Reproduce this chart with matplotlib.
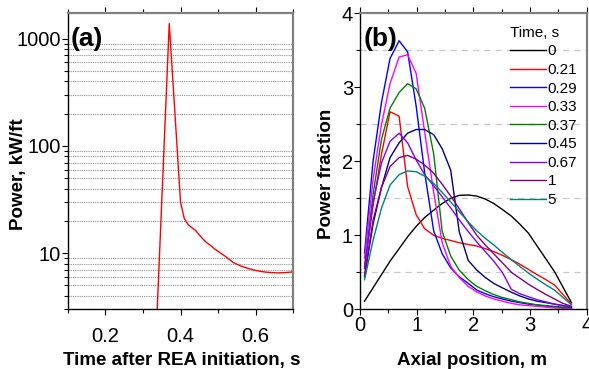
import matplotlib
matplotlib.use('Agg')
import matplotlib.pyplot as plt
from matplotlib.ticker import MultipleLocator, LogLocator, NullFormatter, FixedLocator

plt.rcParams['font.family'] = ['Liberation Sans', 'DejaVu Sans']

# (a) power history
time_s = [0.33, 0.34, 0.35, 0.36, 0.37, 0.38, 0.39, 0.40, 0.41, 0.42, 0.43, 0.44, 0.45,
          0.46, 0.47, 0.48, 0.49, 0.50, 0.52, 0.54, 0.56, 0.58, 0.60, 0.62, 0.64, 0.66,
          0.68, 0.70]
power_kw_ft = [0.65, 4.4, 30, 203, 1380, 386, 108, 30, 21, 18.5, 17.3, 16.3, 14.8,
               13.5, 12.5, 11.8, 11.0, 10.4, 9.3, 8.2, 7.6, 7.2, 6.9, 6.7, 6.6, 6.55,
               6.6, 6.7]

# (b) axial power shapes
axial_m = [0.08, 0.23, 0.38, 0.53, 0.69, 0.84, 0.99, 1.14, 1.30, 1.45, 1.60, 1.75, 1.91,
           2.06, 2.21, 2.36, 2.51, 2.67, 2.82, 2.97, 3.12, 3.28, 3.43, 3.58, 3.73]
t_labels = ['0', '0.21', '0.29', '0.33', '0.37', '0.45', '0.67', '1', '5']
colors = ['#000000', '#ff0000', '#0000ff', '#ff00ff', '#008000', '#000080', '#8000ff',
          '#800080', '#008080']
shape_0 = [0.11, 0.29, 0.47, 0.65, 0.82, 0.98, 1.12, 1.24, 1.34, 1.43, 1.50, 1.54, 1.545,
           1.53, 1.49, 1.43, 1.35, 1.26, 1.15, 1.03, 0.86, 0.68, 0.51, 0.30, 0.09]
shape_021 = [0.58, 1.40, 2.10, 2.67, 2.61, 1.66, 1.28, 1.09, 1.00, 0.96, 0.93, 0.90, 0.875,
             0.855, 0.82, 0.78, 0.73, 0.67, 0.61, 0.54, 0.47, 0.40, 0.33, 0.20, 0.07]
shape_029 = [0.76, 2.00, 2.80, 3.39, 3.63, 3.48, 2.75, 1.85, 1.06, 0.75, 0.56, 0.44, 0.35,
             0.26, 0.21, 0.17, 0.14, 0.11, 0.09, 0.07, 0.06, 0.04, 0.03, 0.02, 0.01]
shape_033 = [0.69, 1.75, 2.50, 3.05, 3.41, 3.44, 3.19, 2.40, 1.58, 0.90, 0.58, 0.43, 0.31,
             0.235, 0.18, 0.14, 0.11, 0.08, 0.06, 0.05, 0.04, 0.03, 0.02, 0.015, 0.01]
shape_037 = [0.56, 1.55, 2.30, 2.72, 2.93, 3.05, 2.98, 2.72, 2.10, 1.05, 0.72, 0.53, 0.40,
             0.31, 0.25, 0.20, 0.16, 0.13, 0.10, 0.08, 0.06, 0.05, 0.04, 0.03, 0.02]
shape_045 = [0.44, 1.15, 1.65, 2.05, 2.25, 2.38, 2.43, 2.43, 2.36, 2.17, 1.88, 1.05, 0.66,
             0.53, 0.43, 0.35, 0.29, 0.23, 0.18, 0.14, 0.11, 0.09, 0.07, 0.05, 0.03]
shape_067 = [0.55, 1.45, 1.98, 2.27, 2.38, 2.25, 2.02, 1.82, 1.67, 1.52, 1.37, 1.21, 1.05,
             0.91, 0.78, 0.65, 0.50, 0.27, 0.21, 0.17, 0.13, 0.10, 0.07, 0.05, 0.03]
shape_1 = [0.46, 1.20, 1.65, 1.93, 2.05, 2.08, 2.03, 1.95, 1.84, 1.69, 1.53, 1.36, 1.17,
           1.00, 0.87, 0.75, 0.63, 0.50, 0.42, 0.34, 0.27, 0.20, 0.14, 0.08, 0.04]
shape_5 = [0.40, 0.93, 1.37, 1.68, 1.82, 1.87, 1.86, 1.80, 1.70, 1.58, 1.45, 1.32, 1.18,
           1.06, 0.96, 0.87, 0.77, 0.67, 0.58, 0.49, 0.41, 0.33, 0.26, 0.16, 0.06]
shapes = [shape_0, shape_021, shape_029, shape_033, shape_037, shape_045, shape_067,
          shape_1, shape_5]

fig = plt.figure(figsize=(5.89, 3.69), dpi=100)
ax1 = fig.add_axes([0.115, 0.1618, 0.383, 0.802])
ax2 = fig.add_axes([0.6112, 0.1618, 0.385, 0.802])


def style_frame(ax):
    ax.spines['left'].set_color('black')
    ax.spines['bottom'].set_color('black')
    ax.spines['left'].set_linewidth(1.0)
    ax.spines['bottom'].set_linewidth(1.0)
    ax.spines['top'].set_color('#808080')
    ax.spines['right'].set_color('#808080')
    ax.spines['top'].set_linewidth(1.6)
    ax.spines['right'].set_linewidth(1.6)
    ax.tick_params(which='both', direction='out', top=True, right=False, labeltop=False,
                   labelsize=14.5, width=0.8)
    ax.tick_params(which='major', length=4)
    ax.tick_params(which='minor', length=3)


# ---- panel (a)
ax1.plot(time_s, power_kw_ft, color='red', lw=1.0)
ax1.set_yscale('log')
ax1.set_xlim(0.1, 0.7)
ax1.set_ylim(3, 1720)
ax1.xaxis.set_major_locator(FixedLocator([0.2, 0.4, 0.6]))
ax1.xaxis.set_minor_locator(MultipleLocator(0.1))
ax1.yaxis.set_major_locator(FixedLocator([10, 100, 1000]))
ax1.yaxis.set_minor_locator(LogLocator(base=10, subs=range(2, 10)))
ax1.yaxis.set_minor_formatter(NullFormatter())
ax1.set_yticklabels(['10', '100', '1000'])
ax1.grid(which='minor', axis='y', color='#909090', ls=(0, (1, 1)), lw=0.8)
style_frame(ax1)
ax1.tick_params(axis='x', pad=9)
ax1.tick_params(axis='y', pad=1)
ax1.set_xlabel('Time after REA initiation, s', fontsize=13.5, fontweight='bold')
ax1.set_ylabel('Power, kW/ft', fontsize=13.5, fontweight='bold')
ax1.xaxis.set_label_coords(0.504, -0.172)
ax1.xaxis.label.set_verticalalignment('center')
ax1.yaxis.set_label_coords(-0.219, 0.457)
ax1.yaxis.label.set_verticalalignment('center')
ax1.text(0.015, 0.912, '(a)', transform=ax1.transAxes, fontsize=19, fontweight='bold',
         va='center', ha='left')

# ---- panel (b)
for shp, c, lab in zip(shapes, colors, t_labels):
    ax2.plot(axial_m, shp, color=c, lw=1.0, label=lab)
ax2.set_xlim(0, 4)
ax2.set_ylim(0, 4)
ax2.xaxis.set_major_locator(MultipleLocator(1))
ax2.xaxis.set_minor_locator(MultipleLocator(0.5))
ax2.yaxis.set_major_locator(MultipleLocator(1))
ax2.yaxis.set_minor_locator(MultipleLocator(0.5))
ax2.grid(which='minor', axis='y', color='#c8c8c8', ls=(0, (5, 4)), lw=0.9)
style_frame(ax2)
ax2.tick_params(axis='x', pad=1)
ax2.tick_params(axis='y', pad=1)
ax2.set_xlabel('Axial position, m', fontsize=13.5, fontweight='bold')
ax2.set_ylabel('Power fraction', fontsize=13.5, fontweight='bold')
ax2.xaxis.set_label_coords(0.496, -0.172)
ax2.xaxis.label.set_verticalalignment('center')
ax2.yaxis.set_label_coords(-0.147, 0.457)
ax2.yaxis.label.set_verticalalignment('center')
ax2.text(0.015, 0.912, '(b)', transform=ax2.transAxes, fontsize=19, fontweight='bold',
         va='center', ha='left')
leg = ax2.legend(title='Time, s', loc='upper left', bbox_to_anchor=(0.662, 0.958),
                 frameon=False, fontsize=11, title_fontsize=11, handlelength=2.35,
                 handletextpad=0.1, labelspacing=0.3, borderpad=0, borderaxespad=0)
leg._legend_box.align = 'left'

fig.savefig('out.png', dpi=100)
